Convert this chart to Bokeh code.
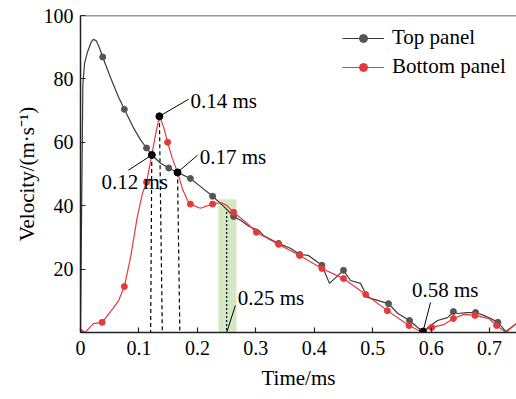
from bokeh.plotting import figure
from bokeh.models import (ColumnDataSource, FixedTicker, Span, Label, Legend, LegendItem)
from bokeh.embed import file_html
from bokeh.resources import INLINE

# ---- data ----
top_t = [0.0, 0.002, 0.004, 0.007, 0.012, 0.018, 0.022, 0.027, 0.032, 0.038, 0.045, 0.051,
         0.065, 0.075, 0.090, 0.103, 0.113, 0.122, 0.137, 0.151, 0.166, 0.188, 0.205,
         0.226, 0.243, 0.252, 0.262, 0.274, 0.288, 0.305, 0.313, 0.339, 0.360, 0.375,
         0.390, 0.413, 0.426, 0.450, 0.462, 0.479, 0.491, 0.527, 0.543, 0.563, 0.577,
         0.586, 0.599, 0.611, 0.628, 0.638, 0.645, 0.662, 0.676, 0.690, 0.702, 0.714,
         0.728, 0.748]
top_v = [0.0, 40.0, 78.0, 85.0, 88.5, 91.5, 92.5, 92.0, 90.0, 86.9, 83.5, 80.6,
         74.3, 70.4, 64.8, 60.7, 58.2, 56.0, 53.4, 51.9, 50.5, 48.6, 46.1,
         43.0, 40.1, 38.5, 36.6, 35.4, 33.5, 32.2, 30.6, 28.1, 26.5, 24.6,
         24.3, 21.2, 15.5, 19.6, 16.4, 15.5, 11.1, 9.1, 6.0, 3.8, 1.6,
         0.3, 2.2, 3.8, 4.7, 6.6, 6.0, 6.3, 6.3, 5.4, 4.4, 3.2,
         0.3, 3.2]
top_mark_t = [0.038, 0.075, 0.113, 0.151, 0.188, 0.226, 0.262, 0.339, 0.375, 0.413,
              0.450, 0.527, 0.563, 0.638, 0.676, 0.714]
top_mark_v = [86.9, 70.4, 58.2, 51.9, 48.6, 43.0, 36.6, 28.1, 24.6, 21.2,
              19.6, 9.1, 3.8, 6.6, 6.3, 3.2]

bot_t = [0.0, 0.009, 0.022, 0.037, 0.057, 0.065, 0.075, 0.086, 0.097, 0.106, 0.113,
         0.122, 0.128, 0.135, 0.142, 0.149, 0.157, 0.166, 0.175, 0.183, 0.188, 0.205,
         0.226, 0.240, 0.250, 0.262, 0.283, 0.301, 0.339, 0.375, 0.413, 0.450, 0.488,
         0.525, 0.562, 0.582, 0.601, 0.622, 0.638, 0.656, 0.675, 0.699, 0.712, 0.728,
         0.748]
bot_v = [0.0, 0.3, 2.8, 3.2, 7.9, 10.0, 14.5, 24.0, 36.3, 43.9, 47.4,
         56.0, 62.0, 68.2, 65.0, 60.0, 55.0, 50.5, 45.0, 41.7, 40.5, 39.2,
         40.5, 41.0, 40.1, 37.9, 34.8, 31.6, 27.8, 24.3, 20.2, 17.0, 12.0,
         6.9, 2.2, 0.3, 1.6, 2.5, 4.4, 5.7, 5.4, 4.4, 2.2, 0.0,
         3.2]
bot_mark_t = [0.0, 0.037, 0.075, 0.113, 0.149, 0.188, 0.226, 0.262, 0.301, 0.339, 0.375,
              0.413, 0.450, 0.488, 0.525, 0.562, 0.601, 0.638, 0.675, 0.712]
bot_mark_v = [0.0, 3.2, 14.5, 47.4, 60.0, 40.5, 40.5, 37.9, 31.6, 27.8, 24.3,
              20.2, 17.0, 12.0, 6.9, 2.2, 1.6, 4.4, 5.4, 2.2]

key_label = ["0.12 ms", "0.14 ms", "0.17 ms", "0.58 ms"]
key_time = [0.12, 0.14, 0.17, 0.58]
key_t = [0.122, 0.135, 0.166, 0.586]
key_v = [56.0, 68.2, 50.5, 0.3]

mark_time = 0.25
mark_v = 38.0
band_left, band_right, band_top = 0.236, 0.267, 42.0

x_ticks = [0, 0.1, 0.2, 0.3, 0.4, 0.5, 0.6, 0.7]
y_ticks = [20, 40, 60, 80, 100]

FONT = "Liberation Serif"
GRAY = "#3a3a3a"
GRAY_M = "#555555"
RED = "#e5393d"

p = figure(width=516, height=399, x_range=(0, 0.746), y_range=(0, 100),
           output_backend="svg", toolbar_location=None,
           min_border_left=80, min_border_right=0, min_border_top=15, min_border_bottom=67)
p.outline_line_color = None
p.grid.visible = False
p.background_fill_color = "white"

# green band
p.quad(left=[band_left], right=[band_right], bottom=[0], top=[band_top],
       fill_color="#cfe6bf", fill_alpha=0.9, line_color=None)

# dashed drop lines from key points
for i in range(3):
    p.line([key_t[i], key_time[i]], [key_v[i], 0], line_color="black",
           line_dash="4 3", line_width=1.2)
p.line([mark_time, mark_time], [mark_v, 0], line_color="black",
       line_dash="2 2", line_width=1.2)

# curves
r_top_l = p.line(top_t, top_v, line_color=GRAY, line_width=1.2)
r_top_m = p.scatter(top_mark_t, top_mark_v, size=6, fill_color=GRAY_M, line_color=GRAY_M)
r_bot_l = p.line(bot_t, bot_v, line_color=RED, line_width=1.2)
r_bot_m = p.scatter(bot_mark_t, bot_mark_v, size=6, fill_color=RED, line_color=RED)

# key points
p.scatter(key_t, key_v, size=7, fill_color="black", line_color="black")

# leader lines + labels (positions in data units)
lead_start = [(key_t[0], key_v[0]), (key_t[1], key_v[1]), (key_t[2], key_v[2]),
              (mark_time, 0), (key_t[3], key_v[3])]
lead_end = [(0.082, 51.2), (0.185, 73.6), (0.200, 55.9), (0.265, 8.5), (0.599, 9.5)]
for (x0, y0), (x1, y1) in zip(lead_start, lead_end):
    p.line([x0, x1], [y0, y1], line_color="black", line_width=1)

lab_text = [key_label[0], key_label[1], key_label[2], "0.25 ms", key_label[3]]
lab_pos = [(0.036, 47.5), (0.188, 73.0), (0.204, 55.5), (0.269, 11.0), (0.567, 13.3)]
for txt, (lx, ly) in zip(lab_text, lab_pos):
    p.add_layout(Label(x=lx, y=ly, text=txt, text_font=FONT, text_font_size="21px",
                       text_baseline="middle", text_align="left", text_color="black"))

# top border
p.add_layout(Span(location=100, dimension="width", line_color="#333333", line_width=1.5))

# axes
for ax in (p.xaxis[0], p.yaxis[0]):
    ax.axis_line_color = "#222222"
    ax.axis_line_width = 1.5
    ax.major_tick_line_color = "#222222"
    ax.major_tick_line_width = 1.2
    ax.major_tick_in = 5
    ax.major_tick_out = 0
    ax.minor_tick_line_color = None
    ax.major_label_text_font = FONT
    ax.major_label_text_font_size = "20px"
    ax.major_label_text_color = "black"
    ax.axis_label_text_font = FONT
    ax.axis_label_text_font_size = "21px"
    ax.axis_label_text_font_style = "normal"
    ax.axis_label_text_color = "black"

p.xaxis[0].ticker = FixedTicker(ticks=x_ticks)
p.xaxis[0].major_label_overrides = {0: "0", 0.1: "0.1", 0.2: "0.2", 0.3: "0.3",
                                    0.4: "0.4", 0.5: "0.5", 0.6: "0.6", 0.7: "0.7"}
p.yaxis[0].ticker = FixedTicker(ticks=y_ticks)
p.xaxis[0].axis_label = "Time/ms"
p.yaxis[0].axis_label = "Velocity/(m\u00b7s\u207b\u00b9)"
p.xaxis[0].major_label_standoff = 8
p.xaxis[0].axis_label_standoff = 8
p.yaxis[0].major_label_standoff = 7
p.yaxis[0].axis_label_standoff = 2

legend = Legend(items=[LegendItem(label="Top panel", renderers=[r_top_l, r_top_m]),
                       LegendItem(label="Bottom panel", renderers=[r_bot_l, r_bot_m])],
                location=(262, 253), glyph_width=42, glyph_height=20, spacing=4,
                padding=0, margin=0, label_standoff=8, border_line_color=None,
                background_fill_alpha=0, label_text_font=FONT,
                label_text_font_size="21px", label_text_color="black")
p.add_layout(legend)

open("out.html", "w").write(file_html(p, INLINE))
